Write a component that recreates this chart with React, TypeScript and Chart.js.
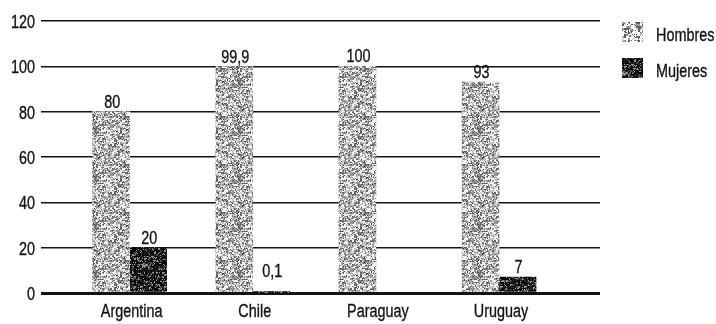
import React, { useEffect, useRef } from "react";
import { Chart, registerables } from "chart.js";

Chart.register(...registerables);

// Data
const countries = ["Argentina", "Chile", "Paraguay", "Uruguay"];
const seriesNames = ["Hombres", "Mujeres"];
const hombres: (number | null)[] = [80, 99.9, 100, 93];
const mujeres: (number | null)[] = [20, 0.1, null, 7];
const yMin = 0;
const yMax = 120;
const yStep = 20;

const FONT_FAMILY = '"Liberation Sans", Arial, sans-serif';
const FONT_SIZE = 18;
const NARROW = 0.8; // horizontal squeeze to get a condensed face
const INK = "#141414";

// Deterministic grain texture (print-style screen) used as a bar fill:
// crisp 2px clusters with single-pixel specks on top.
function makeGrain(
  target: CanvasRenderingContext2D,
  levels: string[],
  weights: number[],
  specks: string[],
  speckShare: number,
  seed: number
): CanvasPattern | string {
  const size = 48;
  const c = document.createElement("canvas");
  c.width = size;
  c.height = size;
  const g = c.getContext("2d");
  if (!g) return levels[0];
  let s = seed;
  const next = () => {
    s = (s * 1103515245 + 12345) % 2147483648;
    return s / 2147483648;
  };
  const pick = () => {
    const r = next();
    let acc = 0;
    for (let k = 0; k < weights.length - 1; k++) {
      acc += weights[k];
      if (r < acc) return levels[k];
    }
    return levels[levels.length - 1];
  };
  for (let y = 0; y < size; y += 2) {
    for (let x = 0; x < size; x += 2) {
      g.fillStyle = pick();
      g.fillRect(x, y, 2, 2);
    }
  }
  for (let y = 0; y < size; y++) {
    for (let x = 0; x < size; x++) {
      if (next() < speckShare) {
        g.fillStyle = specks[Math.floor(next() * specks.length) % specks.length];
        g.fillRect(x, y, 1, 1);
      }
    }
  }
  return target.createPattern(c, "repeat") || levels[0];
}

const fmt = (v: number) => String(v).replace(".", ",");

function narrowText(
  ctx: CanvasRenderingContext2D,
  text: string,
  x: number,
  y: number,
  align: CanvasTextAlign,
  baseline: CanvasTextBaseline
) {
  ctx.save();
  ctx.font = `${FONT_SIZE}px ${FONT_FAMILY}`;
  ctx.fillStyle = INK;
  ctx.strokeStyle = INK;
  ctx.lineWidth = 0.35;
  ctx.textAlign = align;
  ctx.textBaseline = baseline;
  ctx.translate(x, y);
  ctx.scale(NARROW, 1);
  ctx.fillText(text, 0, 0);
  ctx.strokeText(text, 0, 0);
  ctx.restore();
}

// Axis labels in a condensed face, placed from the chart's own scales.
const axisLabels = {
  id: "axisLabels",
  afterDraw(chart: any) {
    const ctx = chart.ctx as CanvasRenderingContext2D;
    const xs = chart.scales.x;
    const ys = chart.scales.y;
    const area = chart.chartArea;
    ys.ticks.forEach((t: any) => {
      narrowText(ctx, String(t.value), area.left - 6, ys.getPixelForValue(t.value) + 2, "right", "middle");
    });
    xs.ticks.forEach((t: any) => {
      const name = countries[t.value];
      if (name) narrowText(ctx, name, xs.getPixelForValue(t.value) + 2, area.bottom + 24, "center", "alphabetic");
    });
  },
};

// Value labels above each bar; very short bars get their label lifted a little.
const valueLabels = {
  id: "valueLabels",
  afterDatasetsDraw(chart: any) {
    const ctx = chart.ctx as CanvasRenderingContext2D;
    const zeroY = chart.scales.y.getPixelForValue(0);
    chart.data.datasets.forEach((ds: any, di: number) => {
      const meta = chart.getDatasetMeta(di);
      meta.data.forEach((bar: any, i: number) => {
        const v = ds.data[i].y;
        if (v == null) return;
        const top = Math.min(bar.y, zeroY - 12);
        narrowText(ctx, fmt(v), bar.x + 1, top - 4, "center", "alphabetic");
      });
    });
  },
};

// Legend column at the right of the plot.
const sideLegend = {
  id: "sideLegend",
  afterDraw(chart: any) {
    const ctx = chart.ctx as CanvasRenderingContext2D;
    const x0 = chart.chartArea.right + 22;
    chart.data.datasets.forEach((ds: any, i: number) => {
      const top = 22 + i * 36;
      ctx.save();
      ctx.fillStyle = ds.legendFill || ds.backgroundColor;
      ctx.fillRect(x0, top, 21, 20);
      ctx.restore();
      narrowText(ctx, ds.label, x0 + 34, top + 19, "left", "alphabetic");
    });
  },
};

export default function App() {
  const ref = useRef<HTMLCanvasElement | null>(null);

  useEffect(() => {
    const canvas = ref.current;
    if (!canvas) return;
    const ctx = canvas.getContext("2d");
    if (!ctx) return;

    const menFill = makeGrain(
      ctx,
      ["#f0f0f0", "#c4c4c4", "#9a9a9a", "#6c6c6c"],
      [0.3, 0.3, 0.25, 0.15],
      ["#ffffff", "#4a4a4a", "#8a8a8a"],
      0.3,
      7
    );
    const womenFill = makeGrain(
      ctx,
      ["#050505", "#1c1c1c", "#4a4a4a", "#8c8c8c"],
      [0.5, 0.28, 0.14, 0.08],
      ["#000000", "#a0a0a0", "#2a2a2a"],
      0.3,
      29
    );
    const menSwatch = makeGrain(
      ctx,
      ["#ffffff", "#dcdcdc", "#9a9a9a", "#606060"],
      [0.45, 0.25, 0.18, 0.12],
      ["#ffffff", "#555555"],
      0.25,
      11
    );

    const chart = new Chart(ctx, {
      type: "bar",
      data: {
        datasets: [
          {
            label: seriesNames[0],
            data: hombres.map((y, x) => ({ x, y })),
            backgroundColor: menFill,
            legendFill: menSwatch,
            barThickness: 37,
          } as any,
          {
            label: seriesNames[1],
            data: mujeres.map((y, x) => ({ x, y })),
            backgroundColor: womenFill,
            barThickness: 37,
          } as any,
        ],
      },
      options: {
        animation: false,
        responsive: true,
        maintainAspectRatio: false,
        layout: { padding: { left: 41, right: 116, top: 21, bottom: 23 } },
        plugins: {
          legend: { display: false },
          tooltip: { enabled: false },
        },
        scales: {
          x: {
            type: "linear",
            offset: false,
            min: -0.72,
            max: 3.82,
            grid: { display: false, offset: false },
            border: { display: false },
            afterBuildTicks: (axis: any) => {
              axis.ticks = countries.map((_, i) => ({ value: i }));
            },
            ticks: { display: false },
          },
          y: {
            min: yMin,
            max: yMax,
            ticks: { stepSize: yStep, display: false },
            grid: {
              color: INK,
              lineWidth: (c: any) => (c.tick && c.tick.value === 0 ? 3 : 1.4),
              drawTicks: false,
            },
            border: { display: false },
          },
        },
      },
      plugins: [valueLabels, axisLabels, sideLegend],
    });

    return () => chart.destroy();
  }, []);

  return (
    <div
      style={{
        position: "fixed",
        left: 0,
        top: 0,
        width: 716,
        height: 324,
        background: "#ffffff",
      }}
    >
      <canvas ref={ref} />
    </div>
  );
}
